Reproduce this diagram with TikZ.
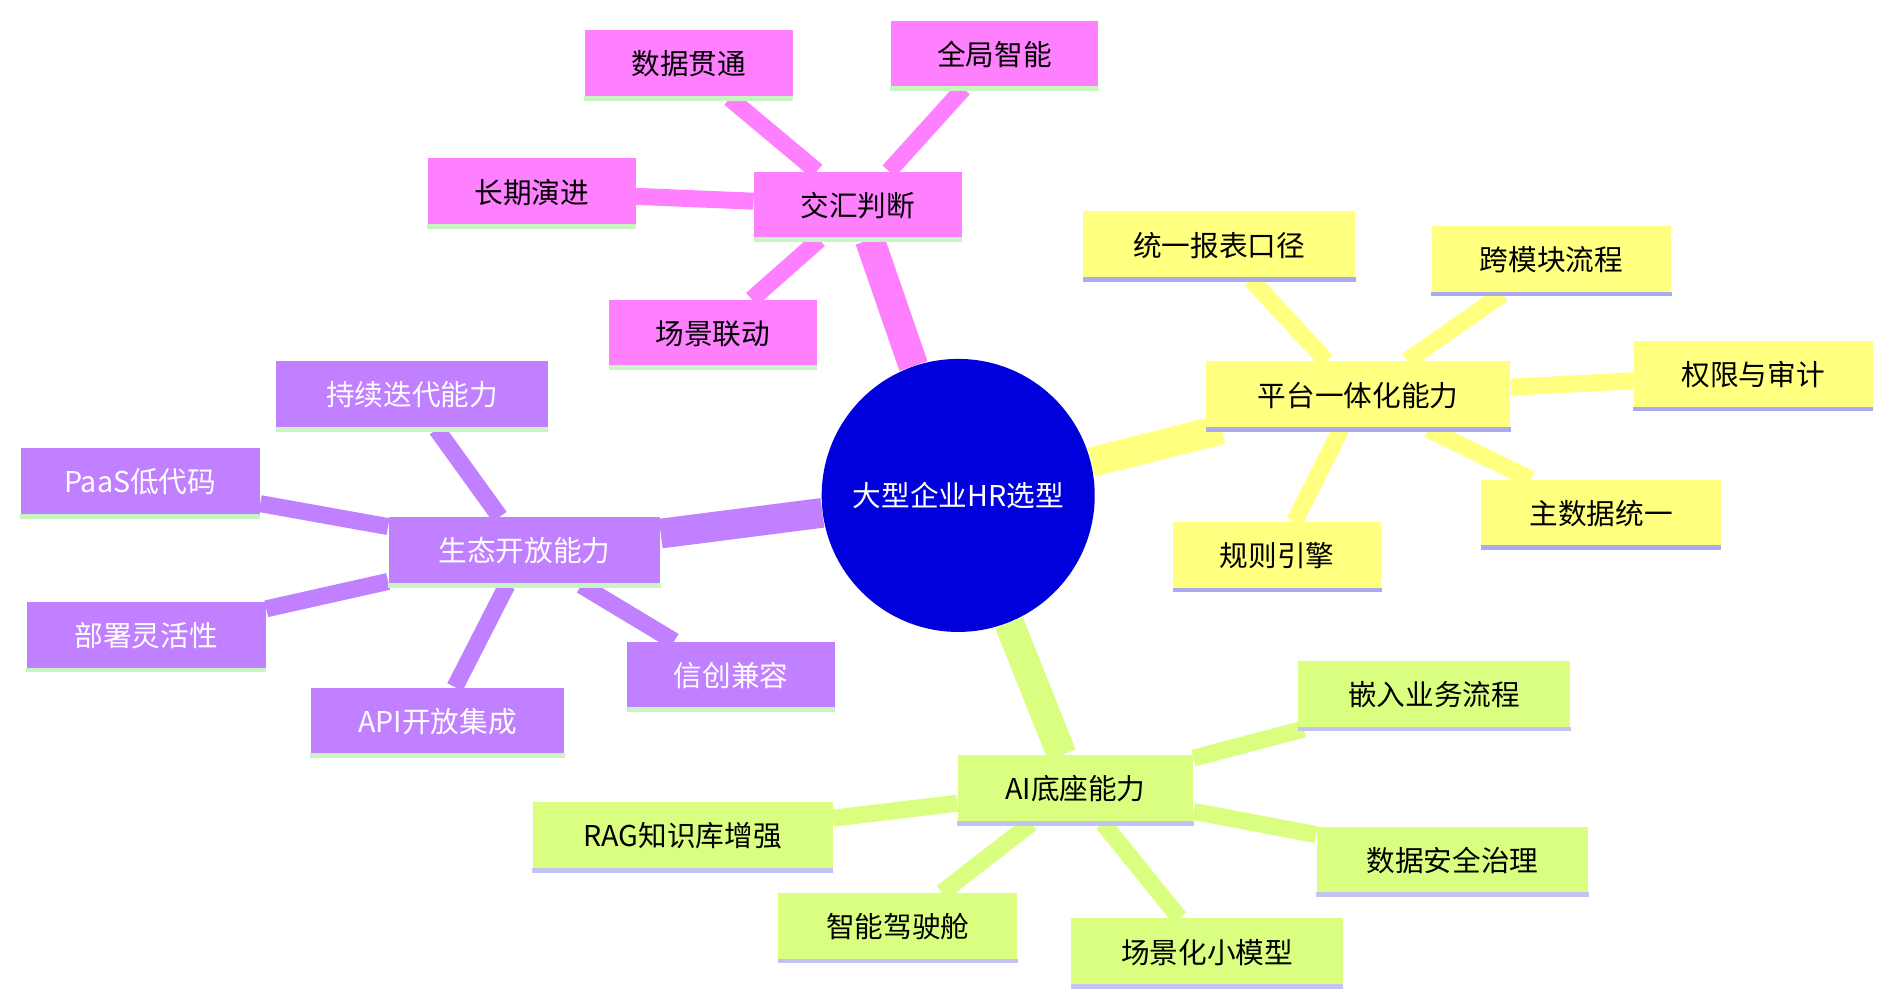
\documentclass[tikz,border=0pt]{standalone}
\usepackage{fontspec}
\setmainfont{Noto Sans CJK SC}
\usetikzlibrary{backgrounds}
\definecolor{rootblue}{HTML}{0000DD}
\definecolor{pink}{HTML}{FF80FF}
\definecolor{lemon}{HTML}{FFFF80}
\definecolor{lime}{HTML}{DAFF80}
\definecolor{violet}{HTML}{C080FF}
\definecolor{mint}{HTML}{C8F5C0}
\definecolor{lavender}{HTML}{AAAAEE}
\tikzset{
  topic/.style={rectangle, fill=#1, minimum height=1.12cm, inner xsep=6pt,
    font=\fontsize{13.5}{16}\selectfont},
  underline/.style={append after command={(\tikzlastnode.south west) edge[draw=#1, line width=2.2pt] (\tikzlastnode.south east)}},
  branch/.style={line width=8pt, #1},
  trunk/.style={line width=14pt, #1}
}
\begin{document}
\begin{tikzpicture}[x=0.02cm, y=-0.02cm]
    \useasboundingbox (0,0) rectangle (1560,829);

    % Root
    \node[circle, fill=rootblue, minimum size=4.52cm, text=white,
      font=\fontsize{13.5}{16}\selectfont] (root) at (793,410) {大型企业HR选型};

    % Convergence
    \node[topic=pink, minimum width=3.44cm, underline=mint] (judge) at (710,170) {交汇判断};
    \node[topic=pink, minimum width=3.44cm, underline=mint] (data) at (570,53) {数据贯通};
    \node[topic=pink, minimum width=3.44cm, underline=mint] (global) at (823,45) {全局智能};
    \node[topic=pink, minimum width=3.44cm, underline=mint] (evolve) at (440,159) {长期演进};
    \node[topic=pink, minimum width=3.44cm, underline=mint] (link) at (590,276) {场景联动};

    % Platform
    \node[topic=lemon, minimum width=5.04cm, underline=lavender] (platform) at (1124,327) {平台一体化能力};
    \node[topic=lemon, minimum width=4.5cm, underline=lavender] (report) at (1009,203) {统一报表口径};
    \node[topic=lemon, minimum width=3.96cm, underline=lavender] (flow) at (1284,215) {跨模块流程};
    \node[topic=lemon, minimum width=3.96cm, underline=lavender] (audit) at (1451,310) {权限与审计};
    \node[topic=lemon, minimum width=3.96cm, underline=lavender] (master) at (1325,425) {主数据统一};
    \node[topic=lemon, minimum width=3.44cm, underline=lavender] (rules) at (1057,460) {规则引擎};

    % AI base
    \node[topic=lime, minimum width=3.9cm, underline=lavender!70] (ai) at (890,653) {AI底座能力};
    \node[topic=lime, minimum width=4.5cm, underline=lavender!70] (embed) at (1187,575) {嵌入业务流程};
    \node[topic=lime, minimum width=4.5cm, underline=lavender!70] (secure) at (1202,712) {数据安全治理};
    \node[topic=lime, minimum width=4.5cm, underline=lavender!70] (small) at (999,788) {场景化小模型};
    \node[topic=lime, minimum width=3.96cm, underline=lavender!70] (cockpit) at (743,767) {智能驾驶舱};
    \node[topic=lime, minimum width=4.96cm, underline=lavender!70] (rag) at (565,692) {RAG知识库增强};

    % Ecosystem
    \node[topic=violet, minimum width=4.5cm, text=white, underline=mint] (eco) at (434,456) {生态开放能力};
    \node[topic=violet, minimum width=4.5cm, text=white, underline=mint] (iterate) at (341,327) {持续迭代能力};
    \node[topic=violet, minimum width=3.96cm, text=white, underline=mint] (paas) at (116,399) {PaaS低代码};
    \node[topic=violet, minimum width=3.96cm, text=white, underline=mint] (deploy) at (121,526) {部署灵活性};
    \node[topic=violet, minimum width=4.2cm, text=white, underline=mint] (api) at (362,597) {API开放集成};
    \node[topic=violet, minimum width=3.44cm, text=white, underline=mint] (xinchuang) at (605,559) {信创兼容};

    \begin{scope}[on background layer]
        \draw[trunk=pink] (root) -- (judge);
        \draw[trunk=lemon] (root) -- (platform);
        \draw[trunk=lime] (root) -- (ai);
        \draw[trunk=violet] (root) -- (eco);
        \foreach \leaf in {data,global,evolve,link}
            \draw[branch=pink] (judge) -- (\leaf);
        \foreach \leaf in {report,flow,audit,master,rules}
            \draw[branch=lemon] (platform) -- (\leaf);
        \foreach \leaf in {embed,secure,small,cockpit,rag}
            \draw[branch=lime] (ai) -- (\leaf);
        \foreach \leaf in {iterate,paas,deploy,api,xinchuang}
            \draw[branch=violet] (eco) -- (\leaf);
    \end{scope}
\end{tikzpicture}
\end{document}
